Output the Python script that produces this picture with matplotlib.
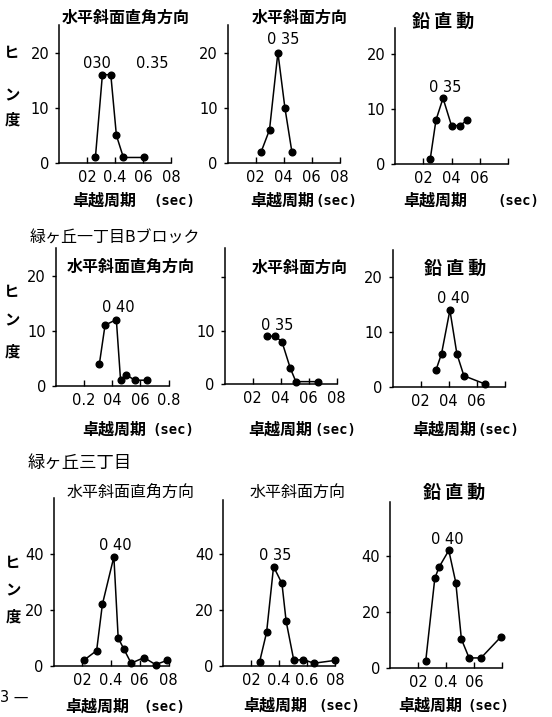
import matplotlib
matplotlib.use("Agg")
import matplotlib.pyplot as plt

W, H = 552, 717
JP = ['Noto Sans CJK JP', 'DejaVu Sans']
plt.rcParams['font.family'] = ['DejaVu Sans']

# ---------------- data ----------------
# row 1 (top block)
r1_perp_x = [0.26, 0.31, 0.37, 0.41, 0.46, 0.61]
r1_perp_y = [1, 16, 16, 5, 1, 1]
r1_slope_x = [0.24, 0.30, 0.36, 0.41, 0.46]
r1_slope_y = [2, 6, 20, 10, 2]
r1_vert_x = [0.25, 0.29, 0.34, 0.40, 0.46, 0.51]
r1_vert_y = [1, 8, 12, 7, 7, 8]
# row 2 (緑ヶ丘一丁目Bブロック)
r2_perp_x = [0.31, 0.35, 0.43, 0.46, 0.50, 0.56, 0.65]
r2_perp_y = [4, 11, 12, 1, 2, 1, 1]
r2_slope_x = [0.30, 0.36, 0.41, 0.47, 0.51, 0.67]
r2_slope_y = [9, 9, 8, 3, 0.5, 0.5]
r2_vert_x = [0.31, 0.35, 0.41, 0.46, 0.51, 0.66]
r2_vert_y = [3, 6, 14, 6, 2, 0.5]
# row 3 (緑ヶ丘三丁目)
r3_perp_x = [0.21, 0.30, 0.34, 0.42, 0.45, 0.49, 0.54, 0.63, 0.71, 0.79]
r3_perp_y = [2, 5.5, 22, 39, 10, 6, 1, 3, 0.5, 2]
r3_slope_x = [0.26, 0.31, 0.36, 0.42, 0.45, 0.505, 0.57, 0.65, 0.80]
r3_slope_y = [1.5, 12, 35.5, 29.5, 16, 2, 2.3, 1, 2]
r3_vert_x = [0.255, 0.32, 0.35, 0.42, 0.47, 0.51, 0.565, 0.65, 0.79]
r3_vert_y = [2.4, 32, 36, 42, 30.5, 10.3, 3.6, 3.6, 11]

x_ticks = [0.2, 0.4, 0.6, 0.8]
panel_titles = ['水平斜面直角方向', '水平斜面方向', '鉛 直 動']
xlabel_jp = '卓越周期'
xlabel_unit = '(sec)'
ylabel_chars = ['ヒ', 'ン', '度']
section_titles = ['緑ヶ丘一丁目Bブロック', '緑ヶ丘三丁目']

fig = plt.figure(figsize=(W / 100, H / 100), dpi=100)


def fx(x):
    return x / W


def fy(y):
    return 1 - y / H


def make_ax(l, r, t, b, xs, ys, ylim, yticks, ytl, xtl):
    ax = fig.add_axes([fx(l), fy(b), (r - l) / W, (b - t) / H])
    ax.plot(xs, ys, color='black', lw=1.1, marker='o', ms=4.8,
            markerfacecolor='black', markeredgecolor='black', clip_on=False)
    ax.set_xlim(0, 0.8)
    ax.set_ylim(0, ylim)
    ax.spines['top'].set_visible(False)
    ax.spines['right'].set_visible(False)
    for s in ('left', 'bottom'):
        ax.spines[s].set_linewidth(1.1)
    ax.set_xticks(x_ticks)
    ax.set_xticklabels(xtl)
    ax.set_yticks(yticks)
    ax.set_yticklabels(ytl)
    ax.tick_params(axis='x', direction='in', length=4, width=1, pad=5,
                   labelsize=10.5)
    ax.tick_params(axis='y', direction='out', length=3, width=1, pad=4,
                   labelsize=10.5)
    ax.patch.set_alpha(0)
    return ax


def ftext(x, y, s, size=11, weight='normal', ha='center', family=None):
    fig.text(fx(x), fy(y), s, ha=ha, va='center', fontsize=size,
             fontweight=weight, family=family if family else JP)


# ---------------- row 1 ----------------
make_ax(59, 171, 25, 163, r1_perp_x, r1_perp_y, 25, [0, 10, 20],
        ['0', '10', '20'], ['02', '0.4', '06', '08'])
make_ax(227.5, 339.5, 25, 163, r1_slope_x, r1_slope_y, 25, [0, 10, 20],
        ['0', '10', '20'], ['02', '04', '06', '08'])
make_ax(395, 508, 28, 164, r1_vert_x, r1_vert_y, 24.8, [0, 10, 20],
        ['0', '10', '20'], ['02', '04', '06', ''])

ftext(126, 18, panel_titles[0], size=11.5, weight='bold')
ftext(300, 18, panel_titles[1], size=11.5, weight='bold')
ftext(443, 21, panel_titles[2], size=13, weight='bold')

ftext(97, 63, '030', size=10.5, family='DejaVu Sans')
ftext(152, 63, '0.35', size=10.5, family='DejaVu Sans')
ftext(283, 40, '0 35', size=10.5, family='DejaVu Sans')
ftext(445, 87, '0 35', size=10.5, family='DejaVu Sans')

for cy, ch in zip([53, 95, 120], ylabel_chars):
    ftext(12, cy, ch, size=11, weight='bold')

for (x1, x2, y) in [(72, 153, 201), (250, 315, 201), (403, 497, 201)]:
    ftext(x1, y, xlabel_jp, size=11.5, weight='bold', ha='left')
    ftext(x2, y, xlabel_unit, size=10, weight='bold', ha='left',
          family='DejaVu Sans Mono')

# ---------------- row 2 ----------------
ftext(30, 238, section_titles[0], size=11.5, ha='left')
make_ax(55.7, 168.5, 248, 385.7, r2_perp_x, r2_perp_y, 25, [0, 10, 20],
        ['0', '10', '20'], ['0.2', '04', '06', '0.8'])
make_ax(224.5, 336.5, 248, 384.3, r2_slope_x, r2_slope_y, 25.5, [0, 10, 20],
        ['0', '10', ''], ['02', '04', '06', '08'])
make_ax(392.5, 504.5, 250, 386.7, r2_vert_x, r2_vert_y, 25, [0, 10, 20],
        ['0', '10', '20'], ['02', '04', '06', ''])

ftext(131, 267, panel_titles[0], size=11.5, weight='bold')
ftext(300, 268, panel_titles[1], size=11.5, weight='bold')
ftext(455, 268, panel_titles[2], size=13, weight='bold')

ftext(118, 308, '0 40', size=10.5, family='DejaVu Sans')
ftext(277, 325, '0 35', size=10.5, family='DejaVu Sans')
ftext(453, 299, '0 40', size=10.5, family='DejaVu Sans')

for cy, ch in zip([292, 320, 352], ylabel_chars):
    ftext(12, cy, ch, size=11, weight='bold')

for (x1, x2, y) in [(82, 152, 430), (248, 314, 430), (412, 477, 430)]:
    ftext(x1, y, xlabel_jp, size=11.5, weight='bold', ha='left')
    ftext(x2, y, xlabel_unit, size=10, weight='bold', ha='left',
          family='DejaVu Sans Mono')

# ---------------- row 3 ----------------
ftext(28, 463, section_titles[1], size=12.5, ha='left')
make_ax(53.5, 168.5, 498, 666, r3_perp_x, r3_perp_y, 60, [0, 20, 40],
        ['0', '20', '40'], ['02', '0.4', '06', '08'])
make_ax(223.3, 335, 500, 666, r3_slope_x, r3_slope_y, 59.3, [0, 20, 40],
        ['0', '20', '40'], ['02', '0.4', '0.6', '08'])
make_ax(390, 502, 502, 668, r3_vert_x, r3_vert_y, 59.3, [0, 20, 40],
        ['0', '20', '40'], ['02', '0.4', '06', ''])

ftext(131, 492, panel_titles[0], size=11.5)
ftext(298, 492, panel_titles[1], size=11.5)
ftext(454, 492, panel_titles[2], size=13, weight='bold')

ftext(115, 546, '0 40', size=10.5, family='DejaVu Sans')
ftext(275, 555, '0 35', size=10.5, family='DejaVu Sans')
ftext(447, 540, '0 40', size=10.5, family='DejaVu Sans')

for cy, ch in zip([563, 590, 617], ylabel_chars):
    ftext(13, cy, ch, size=11, weight='bold')

for (x1, x2, y) in [(65, 143, 707), (243, 318, 706), (398, 467, 706)]:
    ftext(x1, y, xlabel_jp, size=11.5, weight='bold', ha='left')
    ftext(x2, y, xlabel_unit, size=10, weight='bold', ha='left',
          family='DejaVu Sans Mono')

ftext(0, 697, '3 —', size=10.5, ha='left', family='DejaVu Sans')

fig.savefig('out.png', dpi=100, facecolor='white')
